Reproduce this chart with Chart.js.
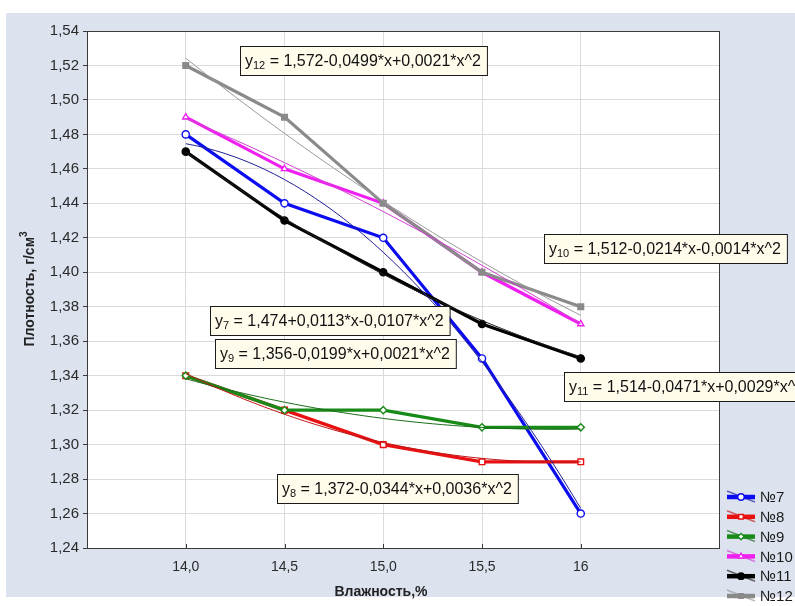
<!DOCTYPE html>
<html>
<head>
<meta charset="utf-8">
<script src="https://cdn.jsdelivr.net/npm/chart.js@4/dist/chart.umd.min.js"></script>
<style>
  html, body { margin: 0; padding: 0; background: #ffffff; }
  #wrap { width: 795px; height: 606px; position: relative; }
</style>
</head>
<body>
<div id="wrap"><canvas id="c" width="795" height="606"></canvas></div>
<script>
// Moisture categories (positions 1..5 on the x scale) and their tick labels
const xPos = [1, 2, 3, 4, 5];
const xLabels = ['14,0', '14,5', '15,0', '15,5', '16'];

// Sample names
const seriesNames = ['№7', '№8', '№9', '№10', '№11', '№12'];

// Measured density, g/cm3
const density7  = [1.48, 1.44, 1.42, 1.35, 1.26];
const density8  = [1.34, 1.32, 1.30, 1.29, 1.29];
const density9  = [1.34, 1.32, 1.32, 1.31, 1.31];
const density10 = [1.49, 1.46, 1.44, 1.40, 1.37];
const density11 = [1.47, 1.43, 1.40, 1.37, 1.35];
const density12 = [1.52, 1.49, 1.44, 1.40, 1.38];

// Quadratic trend coefficients y = a + b*x + c*x^2
const trend7  = [1.474,  0.0113, -0.0107];
const trend8  = [1.372, -0.0344,  0.0036];
const trend9  = [1.356, -0.0199,  0.0021];
const trend10 = [1.512, -0.0214, -0.0014];
const trend11 = [1.514, -0.0471,  0.0029];
const trend12 = [1.572, -0.0499,  0.0021];

// Y axis range and step
const yMin = 1.24, yMax = 1.54, yStep = 0.02;

const densities = [density7, density8, density9, density10, density11, density12];
const trends = [trend7, trend8, trend9, trend10, trend11, trend12];

const colors   = ['#0c0cf0', '#e81010', '#178a17', '#f020f0', '#000000', '#8a8a8a'];
const trendCol = ['#20209a', '#c01818', '#1b6e1b', '#d040d0', '#202020', '#9a9a9a'];
const shapes   = ['circle', 'rect', 'rectRot', 'triangle', 'circle', 'rect'];
const hollow   = [true, true, true, true, false, false];

const FONT = "'Liberation Sans', Arial, sans-serif";

function fmtNum(v, d) { return Math.abs(v).toFixed(d).replace('.', ','); }
function signed(v, d) { return (v < 0 ? '-' : '+') + fmtNum(v, d); }
function equationText(t) {
  return fmtNum(t[0], 3) + signed(t[1], 4) + '*x' + signed(t[2], 4) + '*x^2';
}
function trendPoints(t) {
  const pts = [];
  const n = 40;
  for (let k = 0; k <= n; k++) {
    const x = xPos[0] + (xPos[xPos.length - 1] - xPos[0]) * k / n;
    pts.push({ x: x, y: t[0] + t[1] * x + t[2] * x * x });
  }
  return pts;
}

const datasets = [];
densities.forEach((d, i) => {
  datasets.push({
    label: seriesNames[i],
    data: xPos.map((x, j) => ({ x: x, y: d[j] })),
    borderColor: colors[i],
    backgroundColor: colors[i],
    borderWidth: 3.2,
    pointStyle: shapes[i],
    pointRadius: shapes[i] === 'rect' ? 4 : 3.6,
    pointBorderWidth: 1.4,
    pointBorderColor: colors[i],
    pointBackgroundColor: hollow[i] ? '#ffffff' : colors[i],
    tension: 0,
    order: 20 - i,
    isMain: true,
    seriesIndex: i
  });
});
trends.forEach((t, i) => {
  datasets.push({
    label: 'trend ' + seriesNames[i],
    data: trendPoints(t),
    borderColor: trendCol[i],
    borderWidth: 1,
    pointRadius: 0,
    tension: 0,
    order: 1,
    isMain: false
  });
});

// Equation label boxes (left/top in pixels)
const eqBoxes = [
  { s: 5, left: 240, top: 46 },
  { s: 3, left: 544, top: 234 },
  { s: 4, left: 564, top: 372 },
  { s: 0, left: 210, top: 306 },
  { s: 2, left: 215, top: 339 },
  { s: 1, left: 277, top: 474 }
];

const backgroundPlugin = {
  id: 'panelBackground',
  beforeDraw(chart) {
    const ctx = chart.ctx, a = chart.chartArea;
    ctx.save();
    ctx.fillStyle = '#ffffff';
    ctx.fillRect(0, 0, chart.width, chart.height);
    ctx.fillStyle = '#dce3ef';
    ctx.fillRect(6, 13, chart.width - 6, 584);
    ctx.fillStyle = '#ffffff';
    ctx.fillRect(a.left, a.top, a.right - a.left, a.bottom - a.top);
    ctx.restore();
  }
};

const framePlugin = {
  id: 'plotFrame',
  beforeDatasetsDraw(chart) {
    const ctx = chart.ctx, a = chart.chartArea;
    const xs = chart.scales.x;
    ctx.save();
    ctx.strokeStyle = '#3a3a3a';
    ctx.lineWidth = 1;
    ctx.strokeRect(Math.round(a.left) + 0.5, Math.round(a.top) + 0.5,
                   Math.round(a.right - a.left), Math.round(a.bottom - a.top));
    // inner tick marks on the bottom axis
    ctx.beginPath();
    xPos.forEach(v => {
      const px = Math.round(xs.getPixelForValue(v)) + 0.5;
      ctx.moveTo(px, a.bottom);
      ctx.lineTo(px, a.bottom - 4);
    });
    ctx.stroke();
    ctx.restore();
  }
};

const annotationPlugin = {
  id: 'equations',
  afterDatasetsDraw(chart) {
    const ctx = chart.ctx;
    ctx.save();
    eqBoxes.forEach(b => {
      const sub = seriesNames[b.s].replace('№', '');
      const rest = ' = ' + equationText(trends[b.s]);
      ctx.font = '16px ' + FONT;
      const wy = ctx.measureText('y').width;
      const wr = ctx.measureText(rest).width;
      ctx.font = '11px ' + FONT;
      const ws = ctx.measureText(sub).width;
      const w = wy + ws + wr + 11;
      const h = 29;
      ctx.fillStyle = '#fffcec';
      ctx.fillRect(b.left, b.top, w, h);
      ctx.strokeStyle = '#1a1a1a';
      ctx.lineWidth = 1;
      ctx.strokeRect(b.left + 0.5, b.top + 0.5, w, h);
      const base = b.top + 20;
      let x = b.left + 5;
      ctx.fillStyle = '#111111';
      ctx.textBaseline = 'alphabetic';
      ctx.font = '16px ' + FONT;
      ctx.fillText('y', x, base);
      x += wy;
      ctx.font = '11px ' + FONT;
      ctx.fillText(sub, x, base + 3);
      x += ws;
      ctx.font = '16px ' + FONT;
      ctx.fillText(rest, x, base);
    });
    ctx.restore();
  }
};

const titlesLegendPlugin = {
  id: 'titlesLegend',
  afterDraw(chart) {
    const ctx = chart.ctx;
    ctx.save();
    // x axis title
    ctx.fillStyle = '#222222';
    ctx.font = 'bold 14px ' + FONT;
    ctx.textAlign = 'center';
    ctx.textBaseline = 'middle';
    ctx.fillText('Влажность,%', 381, 592);
    // y axis title with superscript
    ctx.translate(30, 289);
    ctx.rotate(-Math.PI / 2);
    ctx.textAlign = 'left';
    ctx.font = 'bold 14px ' + FONT;
    const main = 'Плотность, г/см';
    const wm = ctx.measureText(main).width;
    ctx.font = 'bold 10px ' + FONT;
    const w3 = ctx.measureText('3').width;
    const start = -(wm + w3) / 2;
    ctx.font = 'bold 14px ' + FONT;
    ctx.fillText(main, start, 0);
    ctx.font = 'bold 10px ' + FONT;
    ctx.fillText('3', start + wm, -6);
    ctx.restore();

    // legend: series line with marker, crossed by its trend-line swatch
    ctx.save();
    const metas = chart.data.datasets.filter(d => d.isMain);
    metas.forEach((d, i) => {
      const cy = 497 + i * 19.8;
      const x0 = 727, x1 = 755;
      ctx.globalAlpha = 0.65;
      ctx.strokeStyle = trendCol[d.seriesIndex];
      ctx.lineWidth = 1.6;
      ctx.beginPath();
      ctx.moveTo(x0, cy - 6);
      ctx.lineTo(x1, cy + 5);
      ctx.stroke();
      ctx.globalAlpha = 1;
      ctx.strokeStyle = d.borderColor;
      ctx.lineWidth = 4.5;
      ctx.beginPath();
      ctx.moveTo(x0, cy);
      ctx.lineTo(x1, cy);
      ctx.stroke();
      ctx.fillStyle = d.pointBackgroundColor;
      ctx.strokeStyle = d.borderColor;
      ctx.lineWidth = 1.4;
      Chart.helpers.drawPoint(ctx, { pointStyle: d.pointStyle, radius: 3.2, borderWidth: 1.4, rotation: 0 }, (x0 + x1) / 2, cy);
      ctx.fillStyle = '#1a1a1a';
      ctx.font = '15px ' + FONT;
      ctx.textAlign = 'left';
      ctx.textBaseline = 'middle';
      ctx.fillText(d.label, 760, cy + 1);
    });
    ctx.restore();
  }
};

new Chart(document.getElementById('c'), {
  type: 'line',
  data: { datasets: datasets },
  options: {
    responsive: false,
    animation: false,
    events: [],
    layout: { padding: { left: 0, right: 76, top: 31, bottom: 0 } },
    plugins: { legend: { display: false }, tooltip: { enabled: false } },
    scales: {
      x: {
        type: 'linear',
        min: 0,
        max: 6.4,
        afterBuildTicks: axis => { axis.ticks = xPos.map(v => ({ value: v })); },
        afterFit: axis => { axis.height = 58; },
        ticks: {
          callback: v => xLabels[xPos.indexOf(v)],
          font: { family: FONT, size: 14 },
          color: '#2a2a2a',
          padding: 11,
          maxRotation: 0,
          autoSkip: false
        },
        grid: { color: '#dadada', lineWidth: 1, drawTicks: false },
        border: { display: false }
      },
      y: {
        type: 'linear',
        min: yMin,
        max: yMax,
        afterFit: axis => { axis.width = 87; },
        ticks: {
          stepSize: yStep,
          callback: v => Number(v).toFixed(2).replace('.', ','),
          font: { family: FONT, size: 15 },
          color: '#2a2a2a',
          padding: 4,
          autoSkip: false
        },
        grid: { color: '#dadada', lineWidth: 1, tickLength: 4, tickColor: '#3a3a3a' },
        border: { display: false }
      }
    }
  },
  plugins: [backgroundPlugin, framePlugin, annotationPlugin, titlesLegendPlugin]
});
</script>
</body>
</html>
